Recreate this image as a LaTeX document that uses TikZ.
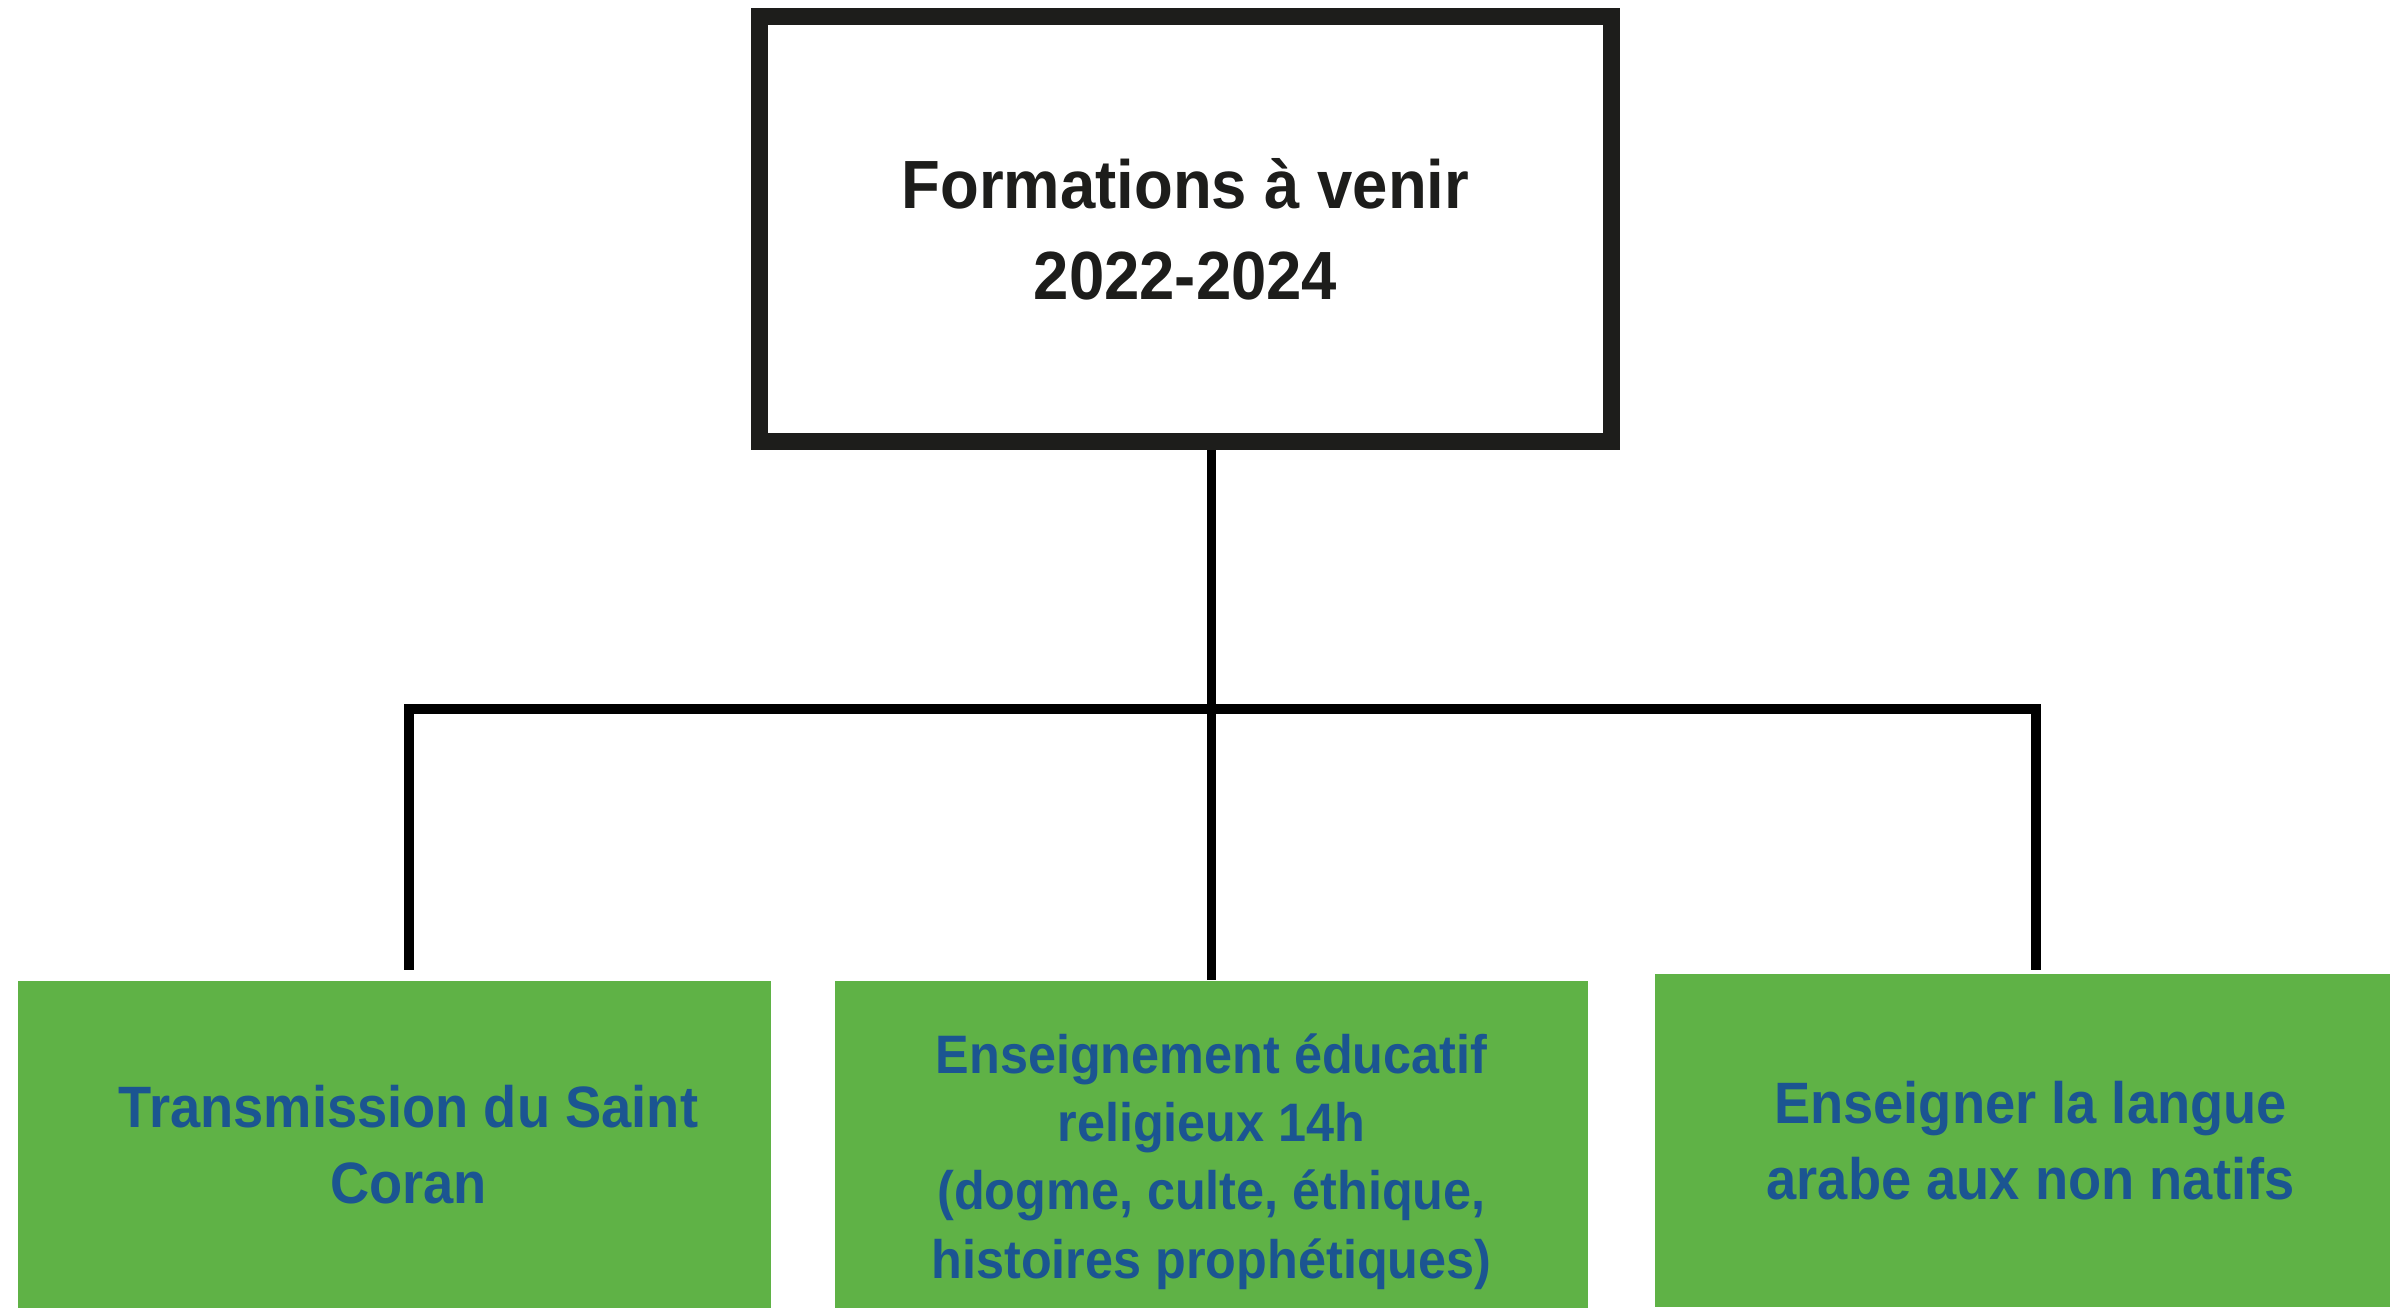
\documentclass[tikz,border=0pt]{standalone}
\usepackage{fontspec}
\setmainfont{Liberation Sans}[FakeStretch=0.93]
\usetikzlibrary{positioning}
\usepackage{xcolor}
\definecolor{boxgreen}{HTML}{5FB246}
\definecolor{textblue}{HTML}{1B5591}
\definecolor{frameblack}{HTML}{1D1D1B}
\def\trainwidth{7.53cm}
\def\nudge#1{\hspace*{#1}}

\begin{document}
\begin{tikzpicture}[x=0.01cm, y=-0.01cm]
    \tikzstyle{link}=[draw=black, line width=0.095cm]
    \tikzstyle{title box}=[rectangle, draw=frameblack, line width=0.17cm, fill=white, minimum width=8.52cm, minimum height=4.25cm, align=center, text=frameblack, font=\bfseries\fontsize{19.4pt}{25.8pt}\selectfont]
    \tikzstyle{course}=[rectangle, fill=boxgreen, minimum width=\trainwidth, minimum height=3.27cm, align=center, text=textblue, inner sep=0pt, font=\bfseries\fontsize{16.6pt}{21.8pt}\selectfont]

    \useasboundingbox (0,0) rectangle (2390,1308);

    % Draw the title box
    \node[title box] (top) at (1185.5,229) {Formations à venir\\2022-2024};

    % Draw the three course boxes
    \node[course] (trans) at (394.5,1144.5) {\nudge{0.28cm}Transmission du Saint\\\nudge{0.28cm}Coran};
    \node[course, font=\bfseries\fontsize{15.4pt}{19.4pt}\selectfont] (mid) at (1211.5,1144.5)
        {\rule{0pt}{21pt}Enseignement éducatif\\religieux 14h\\(dogme, culte, éthique,\\histoires prophétiques)};
    \node[course, minimum width=7.35cm, minimum height=3.33cm] (arabic) at (2022.5,1140.5)
        {\nudge{0.16cm}Enseigner la langue\\\nudge{0.16cm}arabe aux non natifs};

    % Branch points of the tree
    \coordinate (hL) at (409,709);
    \coordinate (hR) at (2036,709);

    % Connect the title box with every course box
    \draw[link] (top.south -| mid.north) -- (mid.north);
    \draw[link, shorten >=0.1cm] (hR) -- (hL) -- (hL |- trans.north);
    \draw[link, shorten >=0.03cm] (hL) -- (hR) -- (hR |- arabic.north);
\end{tikzpicture}
\end{document}
